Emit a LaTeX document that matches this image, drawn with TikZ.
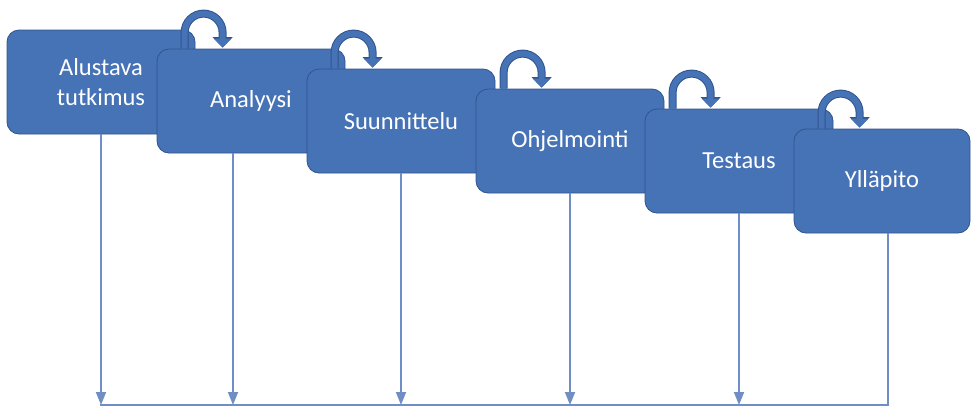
\documentclass[tikz,border=0pt]{standalone}
\usepackage{fontspec}
\setmainfont{Carlito}
\usetikzlibrary{arrows.meta, positioning}
\definecolor{phasefill}{RGB}{70,114,182}
\definecolor{phaseline}{RGB}{50,84,140}
\definecolor{flowline}{RGB}{112,142,198}
\tikzstyle{phase} = [rectangle, rounded corners=12pt, minimum width=188pt, minimum height=104pt, inner sep=0pt, align=center, draw=phaseline, line width=0.8pt, fill=phasefill, text=white, font=\fontsize{24.5}{30}\selectfont]
\tikzstyle{iterate} = [line width=6pt, draw=phasefill, -{Triangle[length=9pt,width=17pt]}, preaction={draw=phaseline, line width=8pt, -{Triangle[length=10.5pt,width=19.5pt]}}]
\tikzstyle{arrow} = [line width=1.8pt, draw=flowline, -{Triangle[length=13pt,width=10pt]}]
\tikzstyle{bus} = [line width=1.8pt, draw=flowline]

\begin{document}
\begin{tikzpicture}[x=1pt, y=-1pt]
  \useasboundingbox (0,0) rectangle (972,410);
  % Vaiheet (porrastettu alaspäin)
  \node[phase] (b1) at (101,82) {Alustava\\tutkimus};
  \node[phase] (b2) at (251,101) {Analyysi};
  \node[phase] (b3) at (401,121) {Suunnittelu};
  \node[phase] (b4) at (570,141) {Ohjelmointi};
  \node[phase] (b5) at (739,161) {Testaus};
  \node[phase, minimum width=176pt] (b6) at (882,181) {Ylläpito};

  % Iterointinuolet
  \foreach \b in {b2,b3,b4,b5,b6}
    \draw[iterate] ([xshift=28pt]\b.north west) -- ++(0,-16) arc[start angle=180, end angle=360, radius=19] -- ++(0,15);

  % Nuolet alas
  \coordinate (bus) at (100,405);
  \foreach \b/\dx in {b1/0, b2/-18, b3/0, b4/0, b5/0}
    \draw[arrow] ([xshift=\dx pt]\b.south) -- ([xshift=\dx pt]\b.south |- bus);
  \draw[bus] ([xshift=6pt]b6.south) |- (bus);
\end{tikzpicture}
\end{document}
